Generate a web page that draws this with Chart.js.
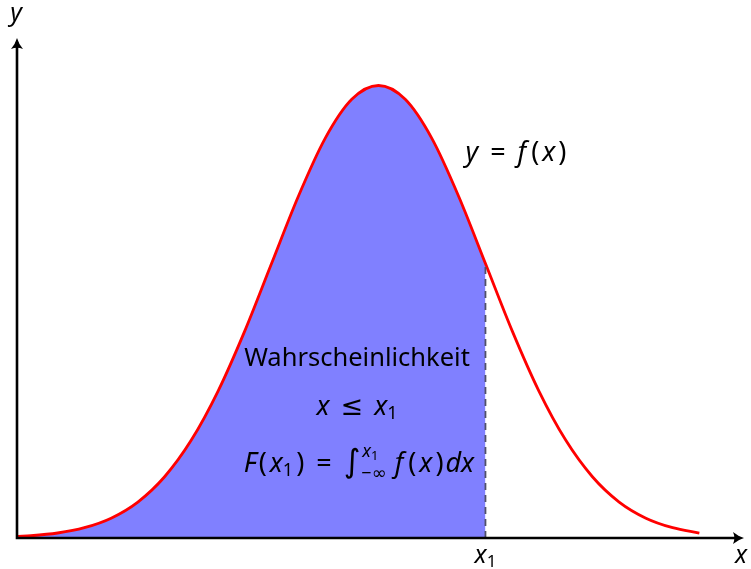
<!DOCTYPE html>
<html>
<head>
<meta charset="utf-8">
<script src="https://cdn.jsdelivr.net/npm/chart.js"></script>
<style>
  html, body { margin: 0; padding: 0; background: #fff; }
  #wrap { width: 751px; height: 569px; }
</style>
</head>
<body>
<div id="wrap"><canvas id="c" width="751" height="569"></canvas></div>
<script>
// values (x in sigma units, y = density)
const xs = [-3.37, -3.25, -3.0, -2.75, -2.5, -2.25, -2.0, -1.75, -1.5, -1.25, -1.0, -0.75, -0.5, -0.25,
            0, 0.25, 0.5, 0.75, 1.0, 1.25, 1.5, 1.75, 2.0, 2.25, 2.5, 2.75, 3.0];
const ys = [0.0014, 0.0020, 0.0044, 0.0091, 0.0175, 0.0317, 0.0540, 0.0863, 0.1295, 0.1826, 0.2420, 0.3011, 0.3521, 0.3867,
            0.3989, 0.3867, 0.3521, 0.3011, 0.2420, 0.1826, 0.1295, 0.0863, 0.0540, 0.0317, 0.0175, 0.0091, 0.0044];
const x1 = 1.0;
const xRange = [-3.38, 3.38];
const yRange = [0, 0.439];

const curve = xs.map((x, i) => ({ x: x, y: ys[i] }));
const area = curve.filter(p => p.x <= x1);

const FONT = '"Noto Sans", "DejaVu Sans", sans-serif';
const it = s => "italic " + s + "px " + FONT;
const nm = s => s + "px " + FONT;

function drawSegs(ctx, segs, cx, baseY) {
  let total = 0;
  segs.forEach(s => {
    if (s.lim) {
      ctx.font = it(18);
      let wsup = ctx.measureText("x").width;
      ctx.font = nm(13);
      wsup += ctx.measureText("1").width;
      ctx.font = nm(18);
      s.w = Math.max(wsup, ctx.measureText("−∞").width);
    } else {
      ctx.font = s.font;
      s.w = ctx.measureText(s.t).width;
    }
    total += s.w + (s.pad || 0);
  });
  let x = cx - total / 2;
  ctx.textAlign = "left";
  ctx.textBaseline = "alphabetic";
  segs.forEach(s => {
    if (s.lim) {
      ctx.font = it(18);
      ctx.fillText("x", x + 1, baseY - 15);
      const wx = ctx.measureText("x").width;
      ctx.font = nm(13);
      ctx.fillText("1", x + 1 + wx, baseY - 12);
      ctx.font = nm(18);
      ctx.fillText("−∞", x, baseY + 7);
    } else {
      ctx.font = s.font;
      ctx.fillText(s.t, x, baseY + (s.dy || 0));
    }
    x += s.w + (s.pad || 0);
  });
}

// filled arrow head pointing in direction (dx, dy)
function arrowHead(ctx, tx, ty, dx, dy) {
  const nx = -dy, ny = dx;
  const L = 11, W = 6;
  ctx.beginPath();
  ctx.moveTo(tx, ty);
  ctx.quadraticCurveTo(tx - dx * L * 0.5 + nx * 1.5, ty - dy * L * 0.5 + ny * 1.5,
                       tx - dx * L + nx * W, ty - dy * L + ny * W);
  ctx.quadraticCurveTo(tx - dx * L * 0.75, ty - dy * L * 0.75, tx - dx * L - nx * W, ty - dy * L - ny * W);
  ctx.quadraticCurveTo(tx - dx * L * 0.5 - nx * 1.5, ty - dy * L * 0.5 - ny * 1.5, tx, ty);
  ctx.closePath();
  ctx.fill();
}

const decor = {
  id: "decor",
  afterDatasetsDraw(chart) {
    const ctx = chart.ctx;
    const sx = chart.scales.x, sy = chart.scales.y;
    const x0 = sx.getPixelForValue(xRange[0]);
    const y0 = sy.getPixelForValue(0);
    const xEnd = sx.getPixelForValue(xRange[1]) + 4;
    const yTop = sy.getPixelForValue(yRange[1]) - 2;
    ctx.save();

    // dashed line at x1
    const px1 = sx.getPixelForValue(x1);
    const fx1 = ys[xs.indexOf(x1)];
    ctx.strokeStyle = "#505068";
    ctx.lineWidth = 1.8;
    ctx.setLineDash([7, 5]);
    ctx.beginPath();
    ctx.moveTo(px1, y0);
    ctx.lineTo(px1, sy.getPixelForValue(fx1));
    ctx.stroke();
    ctx.setLineDash([]);

    // axes
    ctx.strokeStyle = "#000";
    ctx.fillStyle = "#000";
    ctx.lineWidth = 2.6;
    ctx.beginPath();
    ctx.moveTo(x0 - 1.3, y0);
    ctx.lineTo(xEnd - 4, y0);
    ctx.moveTo(x0, y0 + 1.3);
    ctx.lineTo(x0, yTop + 4);
    ctx.stroke();
    arrowHead(ctx, xEnd, y0, 1, 0);
    arrowHead(ctx, x0, yTop, 0, -1);

    // labels
    drawSegs(ctx, [{ t: "y", font: it(25) }], 16, 21);
    drawSegs(ctx, [{ t: "x", font: it(25) }], 741, 563);
    drawSegs(ctx, [{ t: "x", font: it(25) }, { t: "1", font: nm(17), dy: 4 }], px1, 563);

    drawSegs(ctx, [
      { t: "y", font: it(27), pad: 12 }, { t: "=", font: nm(27), pad: 12 },
      { t: "f", font: it(27), pad: 5 }, { t: "(", font: nm(27), pad: 3 }, { t: "x", font: it(27), pad: 3 }, { t: ")", font: nm(27) }
    ], 516, 161);

    drawSegs(ctx, [{ t: "Wahrscheinlichkeit", font: nm(25.5) }], 357, 366);
    drawSegs(ctx, [
      { t: "x", font: it(27), pad: 11 }, { t: "≤", font: nm(27), pad: 11 },
      { t: "x", font: it(27) }, { t: "1", font: nm(18), dy: 4 }
    ], 357, 415);
    drawSegs(ctx, [
      { t: "F", font: it(27), pad: 2 }, { t: "(", font: nm(27), pad: 3 }, { t: "x", font: it(27) }, { t: "1", font: nm(18), dy: 4, pad: 3 },
      { t: ")", font: nm(27), pad: 12 }, { t: "=", font: nm(27), pad: 12 },
      { t: "∫", font: nm(32), pad: 1 },
      { lim: true, pad: 8 },
      { t: "f", font: it(27), pad: 5 }, { t: "(", font: nm(27), pad: 3 }, { t: "x", font: it(27), pad: 3 }, { t: ")", font: nm(27), pad: 2 },
      { t: "dx", font: it(27) }
    ], 359, 472);

    ctx.restore();
  }
};

new Chart(document.getElementById("c"), {
  type: "line",
  data: {
    datasets: [
      {
        data: curve,
        borderColor: "#ff0000",
        borderWidth: 2.8,
        fill: false,
        pointRadius: 0,
        cubicInterpolationMode: "monotone"
      },
      {
        data: area,
        borderWidth: 0,
        borderColor: "rgba(0,0,0,0)",
        backgroundColor: "rgb(128,128,255)",
        fill: "origin",
        pointRadius: 0,
        cubicInterpolationMode: "monotone"
      }
    ]
  },
  options: {
    responsive: false,
    animation: false,
    parsing: false,
    layout: { padding: { left: 17, right: 11, top: 40, bottom: 31 } },
    plugins: { legend: { display: false }, tooltip: { enabled: false } },
    scales: {
      x: { type: "linear", min: xRange[0], max: xRange[1], display: false },
      y: { type: "linear", min: yRange[0], max: yRange[1], display: false }
    }
  },
  plugins: [decor]
});
</script>
</body>
</html>
